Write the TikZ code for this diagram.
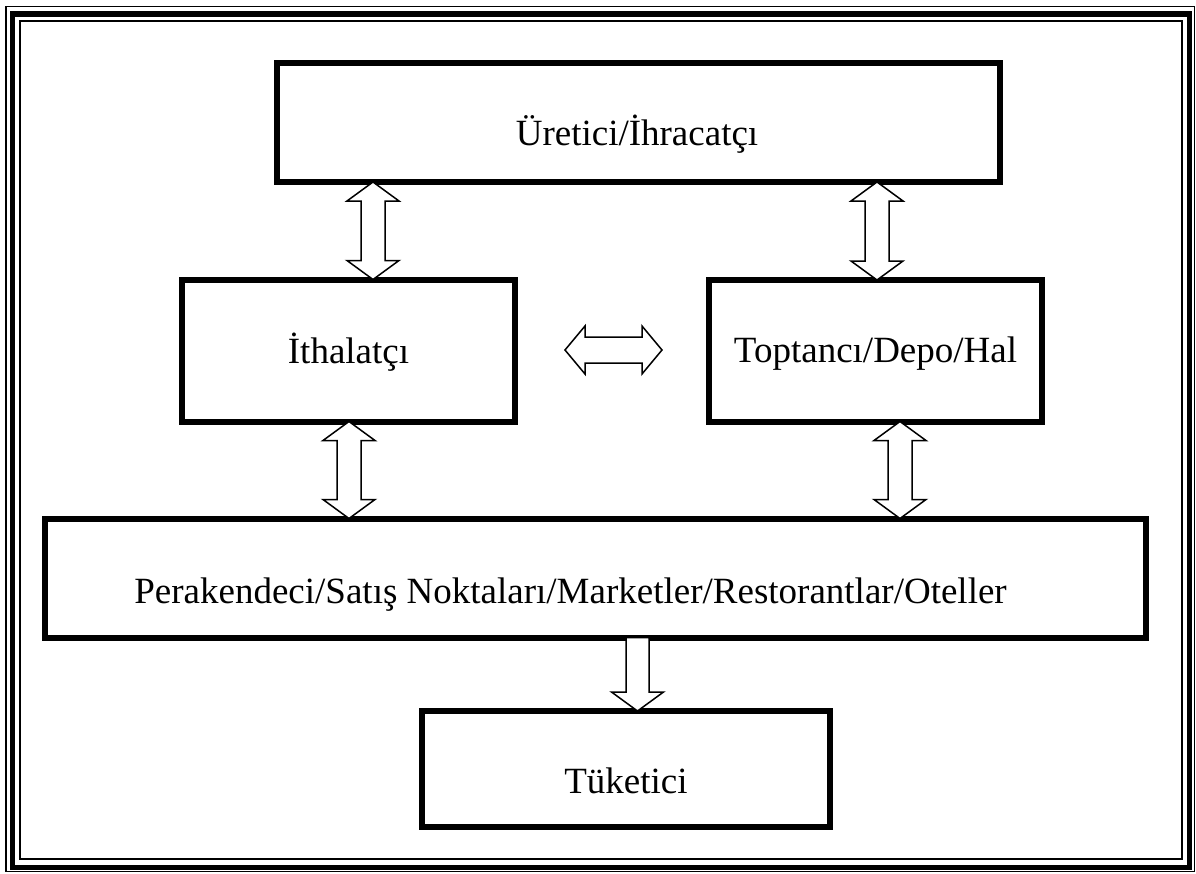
\documentclass[tikz,border=0pt]{standalone}
\usepackage{fontspec}
\setmainfont{Liberation Serif}
\usetikzlibrary{calc}
\tikzset{
  box/.style={draw, line width=6pt, outer sep=0pt, inner sep=0pt, fill=white},
  lbl/.style={inner sep=0pt, anchor=base, font=\fontsize{37}{44}\selectfont},
  arr/.style={draw, line width=1.5pt, fill=white, line join=miter},
}
\newcommand\vdarrow[2]{%
  \draw[arr] (#1) -- ($(#1)+(26,19)$) -- ($(#1)+(12,19)$) -- ($(#2)+(12,-19)$)
    -- ($(#2)+(26,-19)$) -- (#2) -- ($(#2)+(-26,-19)$) -- ($(#2)+(-12,-19)$)
    -- ($(#1)+(-12,19)$) -- ($(#1)+(-26,19)$) -- cycle;}
\begin{document}
\begin{tikzpicture}[x=1pt,y=-1pt]
\useasboundingbox (0,0) rectangle (1196,873);
% frame
\draw[line width=1.5pt] (6,6.5) rectangle (1194.5,871.5);
\draw[line width=5.5pt] (12.5,14) rectangle (1189.5,867.5);
\draw[line width=2pt] (19.5,21) rectangle (1182,859);
% boxes
\node[box, anchor=north west, minimum width=723, minimum height=119] (top) at (277,63) {};
\node[box, anchor=north west, minimum width=333.5, minimum height=142] (imp) at (181.5,279.5) {};
\node[box, anchor=north west, minimum width=333, minimum height=141.5] (whs) at (709,280) {};
\node[box, anchor=north west, minimum width=1101, minimum height=119] (ret) at (45,518.5) {};
\node[box, anchor=north west, minimum width=408.5, minimum height=116] (con) at (421.5,711) {};
% labels
\node[lbl] (ttop) at (637,145) {Üretici/İhracatçı};
\node[lbl] (timp) at (348.5,363) {İthalatçı};
\node[lbl] (twhs) at (875.5,362) {Toptancı/Depo/Hal};
\node[lbl] (tret) at (570.5,603) {Perakendeci/Satış Noktaları/Marketler/Restorantlar/Oteller};
\node[lbl] (tcon) at (626,793) {Tüketici};
% arrow x positions
\coordinate (xa) at (373,0);
\coordinate (xb) at (877,0);
\coordinate (xc) at (349,0);
\coordinate (xd) at (900,0);
\coordinate (xe) at (637.5,0);
\coordinate (a1) at (top.south -| xa);
\coordinate (a2) at (imp.north -| xa);
\coordinate (b1) at (top.south -| xb);
\coordinate (b2) at (whs.north -| xb);
\coordinate (c1) at (imp.south -| xc);
\coordinate (c2) at (ret.north -| xc);
\coordinate (d1) at (whs.south -| xd);
\coordinate (d2) at (ret.north -| xd);
\coordinate (e1) at (ret.south -| xe);
\coordinate (e2) at (con.north -| xe);
\vdarrow{a1}{a2}
\vdarrow{b1}{b2}
\vdarrow{c1}{c2}
\vdarrow{d1}{d2}
% down arrow
\draw[arr] ($(e1)+(-11.5,0)$) -- ($(e1)+(11.5,0)$) -- ($(e2)+(11.5,-19)$) -- ($(e2)+(26,-19)$)
  -- (e2) -- ($(e2)+(-26,-19)$) -- ($(e2)+(-11.5,-19)$) -- cycle;
% horizontal arrow
\coordinate (hl) at (565,350);
\coordinate (hr) at (662,350);
\draw[arr] (hl) -- ($(hl)+(20,-24)$) -- ($(hl)+(20,-13)$) -- ($(hr)+(-20,-13)$) -- ($(hr)+(-20,-24)$)
  -- (hr) -- ($(hr)+(-20,24)$) -- ($(hr)+(-20,13)$) -- ($(hl)+(20,13)$) -- ($(hl)+(20,24)$) -- cycle;
\end{tikzpicture}
\end{document}
